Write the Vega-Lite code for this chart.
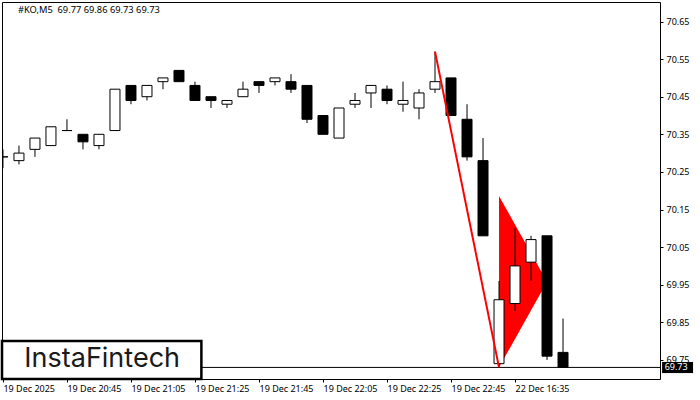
{
  "$schema": "https://vega.github.io/schema/vega-lite/v6.json",
  "width": 658,
  "height": 377,
  "autosize": "none",
  "padding": {"left": 2, "top": 2, "right": 40, "bottom": 21},
  "background": "white",
  "config": {
    "view": {"stroke": "#000", "strokeWidth": 1},
    "font": "Noto Sans",
    "axis": {"grid": false, "domain": false, "title": null, "tickColor": "#000", "labelColor": "#000", "labelFont": "Noto Sans", "labelFontSize": 9}
  },
  "datasets": {
    "candles": [
      {"i": 0, "open": 70.29, "close": 70.29, "high": 70.31, "low": 70.26, "dir": "up"},
      {"i": 1, "open": 70.28, "close": 70.30, "high": 70.32, "low": 70.27, "dir": "up"},
      {"i": 2, "open": 70.31, "close": 70.34, "high": 70.34, "low": 70.29, "dir": "up"},
      {"i": 3, "open": 70.32, "close": 70.37, "high": 70.37, "low": 70.32, "dir": "up"},
      {"i": 4, "open": 70.36, "close": 70.36, "high": 70.39, "low": 70.36, "dir": "up"},
      {"i": 5, "open": 70.35, "close": 70.33, "high": 70.35, "low": 70.31, "dir": "down"},
      {"i": 6, "open": 70.32, "close": 70.35, "high": 70.35, "low": 70.31, "dir": "up"},
      {"i": 7, "open": 70.36, "close": 70.47, "high": 70.47, "low": 70.36, "dir": "up"},
      {"i": 8, "open": 70.48, "close": 70.44, "high": 70.48, "low": 70.43, "dir": "down"},
      {"i": 9, "open": 70.45, "close": 70.48, "high": 70.48, "low": 70.44, "dir": "up"},
      {"i": 10, "open": 70.49, "close": 70.50, "high": 70.50, "low": 70.47, "dir": "up"},
      {"i": 11, "open": 70.52, "close": 70.49, "high": 70.52, "low": 70.49, "dir": "down"},
      {"i": 12, "open": 70.48, "close": 70.44, "high": 70.49, "low": 70.44, "dir": "down"},
      {"i": 13, "open": 70.45, "close": 70.44, "high": 70.45, "low": 70.42, "dir": "down"},
      {"i": 14, "open": 70.43, "close": 70.44, "high": 70.44, "low": 70.42, "dir": "up"},
      {"i": 15, "open": 70.45, "close": 70.47, "high": 70.49, "low": 70.45, "dir": "up"},
      {"i": 16, "open": 70.49, "close": 70.48, "high": 70.49, "low": 70.46, "dir": "down"},
      {"i": 17, "open": 70.49, "close": 70.50, "high": 70.50, "low": 70.48, "dir": "up"},
      {"i": 18, "open": 70.49, "close": 70.47, "high": 70.51, "low": 70.46, "dir": "down"},
      {"i": 19, "open": 70.48, "close": 70.39, "high": 70.48, "low": 70.38, "dir": "down"},
      {"i": 20, "open": 70.40, "close": 70.35, "high": 70.40, "low": 70.35, "dir": "down"},
      {"i": 21, "open": 70.34, "close": 70.42, "high": 70.42, "low": 70.34, "dir": "up"},
      {"i": 22, "open": 70.43, "close": 70.44, "high": 70.46, "low": 70.42, "dir": "up"},
      {"i": 23, "open": 70.46, "close": 70.48, "high": 70.48, "low": 70.42, "dir": "up"},
      {"i": 24, "open": 70.47, "close": 70.44, "high": 70.48, "low": 70.43, "dir": "down"},
      {"i": 25, "open": 70.43, "close": 70.44, "high": 70.49, "low": 70.41, "dir": "up"},
      {"i": 26, "open": 70.42, "close": 70.46, "high": 70.47, "low": 70.39, "dir": "up"},
      {"i": 27, "open": 70.47, "close": 70.49, "high": 70.57, "low": 70.46, "dir": "up"},
      {"i": 28, "open": 70.50, "close": 70.40, "high": 70.50, "low": 70.40, "dir": "down"},
      {"i": 29, "open": 70.39, "close": 70.29, "high": 70.43, "low": 70.28, "dir": "down"},
      {"i": 30, "open": 70.28, "close": 70.08, "high": 70.34, "low": 70.08, "dir": "down"},
      {"i": 31, "open": 69.74, "close": 69.91, "high": 69.96, "low": 69.73, "dir": "up"},
      {"i": 32, "open": 69.90, "close": 70.00, "high": 70.10, "low": 69.88, "dir": "up"},
      {"i": 33, "open": 70.01, "close": 70.07, "high": 70.08, "low": 69.96, "dir": "up"},
      {"i": 34, "open": 70.08, "close": 69.76, "high": 70.08, "low": 69.75, "dir": "down"},
      {"i": 35, "open": 69.77, "close": 69.73, "high": 69.86, "low": 69.73, "dir": "down"}
    ],
    "pennant": [
      {"i": 31, "top": 70.186, "bottom": 69.73},
      {"i": 34, "top": 69.958, "bottom": 69.958}
    ],
    "pole": [{"i": 27, "i2": 31, "from": 70.57, "to": 69.73}],
    "last": [{"i": 41.19, "i2": 43.125, "price": 69.73, "top": 69.7445, "bottom": 69.715, "textpos": 41.35, "label": "69.73"}],
    "header": [{"i": 0.94, "price": 70.68, "label": "#KO,M5\u00a0\u00a069.77 69.86 69.73 69.73"}],
    "logo": [{"i": -0.06, "i2": 12.4, "top": 69.8, "bottom": 69.6992, "mid": 6.2, "price": 69.752, "label": "InstaFintech"}]
  },
  "encoding": {
    "x": {
      "field": "i",
      "type": "quantitative",
      "scale": {"domain": [-0.06, 41.06], "nice": false, "zero": false, "padding": 0},
      "axis": {
        "values": [0, 4, 8, 12, 16, 20, 24, 28, 32],
        "tickSize": 3,
        "labelAlign": "left",
        "labelPadding": 2,
        "labelBound": false,
        "labelFlush": false,
        "labelOverlap": false,
        "labelExpr": "['19 Dec 2025', '19 Dec 20:45', '19 Dec 21:05', '19 Dec 21:25', '19 Dec 21:45', '19 Dec 22:05', '19 Dec 22:25', '19 Dec 22:45', '22 Dec 16:35'][datum.value / 4]"
      }
    }
  },
  "layer": [
    {
      "data": {"name": "pennant"},
      "mark": {"type": "area", "color": "#ff0000", "interpolate": "linear"},
      "encoding": {
        "y": {
          "field": "top",
          "type": "quantitative",
          "scale": {"domain": [69.6992, 70.7019], "nice": false, "zero": false},
          "axis": {
            "orient": "right",
            "values": [69.75, 69.85, 69.95, 70.05, 70.15, 70.25, 70.35, 70.45, 70.55, 70.65],
            "format": ".2f",
            "tickSize": 3,
            "labelPadding": 3
          }
        },
        "y2": {"field": "bottom"}
      }
    },
    {
      "data": {"name": "candles"},
      "mark": {"type": "rule", "color": "#000", "strokeWidth": 1, "clip": true},
      "encoding": {
        "y": {"field": "low", "type": "quantitative"},
        "y2": {"field": "high"}
      }
    },
    {
      "data": {"name": "candles"},
      "mark": {"type": "bar", "size": 10, "stroke": "#000", "strokeWidth": 1, "clip": true},
      "encoding": {
        "y": {"field": "open", "type": "quantitative"},
        "y2": {"field": "close"},
        "fill": {
          "field": "dir",
          "type": "nominal",
          "scale": {"domain": ["up", "down"], "range": ["#fff", "#000"]},
          "legend": null
        }
      }
    },
    {
      "data": {"name": "last"},
      "mark": {"type": "rule", "color": "#000", "strokeWidth": 1},
      "encoding": {
        "x": {"value": 0},
        "x2": {"value": 658},
        "y": {"field": "price", "type": "quantitative"}
      }
    },
    {
      "data": {"name": "pole"},
      "mark": {"type": "rule", "color": "#ff0000", "strokeWidth": 2},
      "encoding": {
        "x2": {"field": "i2"},
        "y": {"field": "from", "type": "quantitative"},
        "y2": {"field": "to"}
      }
    },
    {
      "data": {"name": "last"},
      "mark": {"type": "rect", "color": "#000"},
      "encoding": {
        "x2": {"field": "i2"},
        "y": {"field": "top", "type": "quantitative"},
        "y2": {"field": "bottom"}
      }
    },
    {
      "data": {"name": "last"},
      "mark": {"type": "text", "color": "#fff", "align": "left", "baseline": "middle", "fontSize": 9},
      "encoding": {
        "x": {"field": "textpos", "type": "quantitative"},
        "y": {"field": "price", "type": "quantitative"},
        "text": {"field": "label"}
      }
    },
    {
      "data": {"name": "header"},
      "mark": {"type": "text", "color": "#000", "align": "left", "baseline": "middle", "fontSize": 9.3},
      "encoding": {
        "y": {"field": "price", "type": "quantitative"},
        "text": {"field": "label"}
      }
    },
    {
      "data": {"name": "logo"},
      "mark": {"type": "rect", "fill": "#fff", "stroke": "#000", "strokeWidth": 2.5},
      "encoding": {
        "x2": {"field": "i2"},
        "y": {"field": "top", "type": "quantitative"},
        "y2": {"field": "bottom"}
      }
    },
    {
      "data": {"name": "logo"},
      "mark": {"type": "text", "color": "#1a1a1a", "align": "center", "baseline": "middle", "font": "Inter", "fontSize": 27},
      "encoding": {
        "x": {"field": "mid", "type": "quantitative"},
        "y": {"field": "price", "type": "quantitative"},
        "text": {"field": "label"}
      }
    }
  ]
}
